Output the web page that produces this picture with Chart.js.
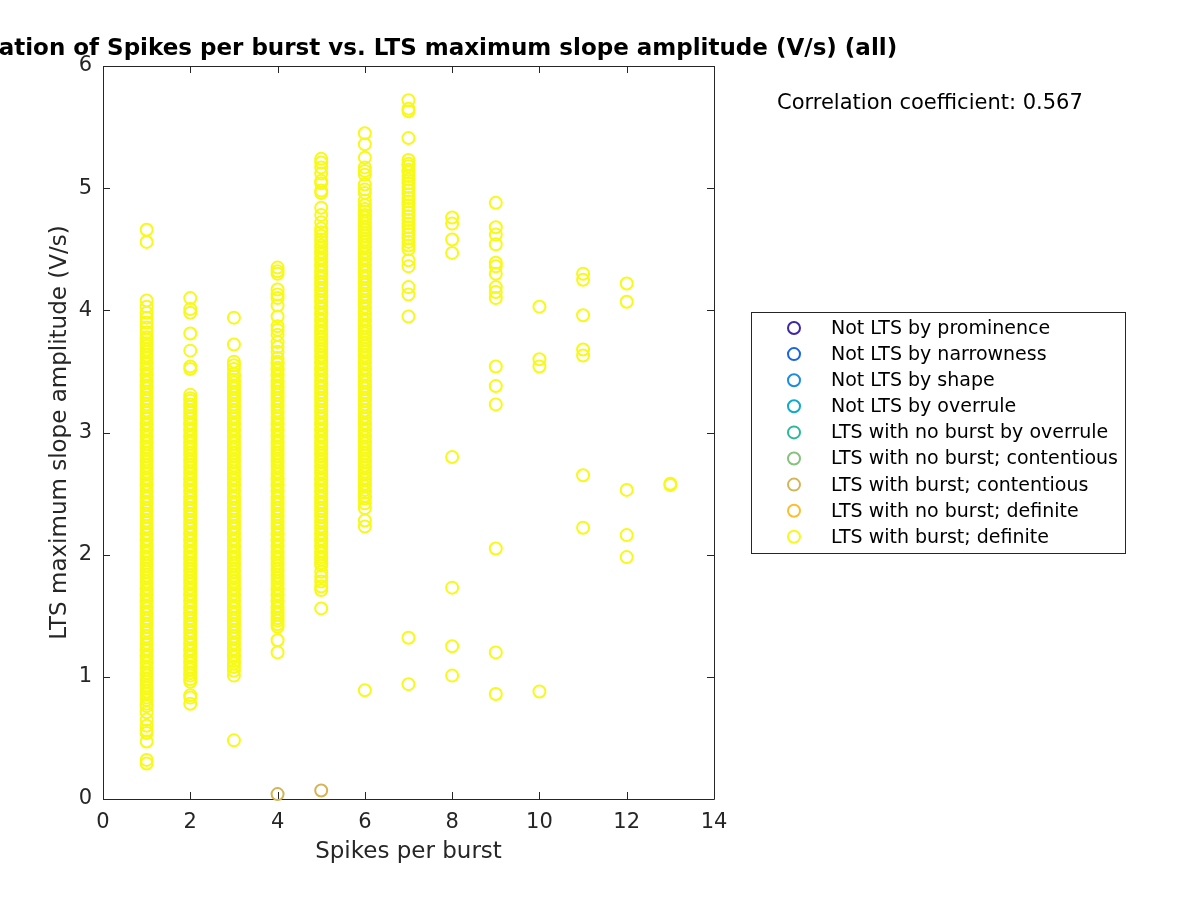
<!DOCTYPE html>
<html>
<head>
<meta charset="utf-8">
<script src="https://cdn.jsdelivr.net/npm/chart.js@4.4.1/dist/chart.umd.min.js"></script>
<style>
html,body{margin:0;padding:0;background:#fff;}
#wrap{width:1200px;height:900px;}
</style>
</head>
<body>
<div id="wrap"><canvas id="chart" width="1200" height="900"></canvas></div>
<script>
// legend labels and marker colours
const classLabels = [
"Not LTS by prominence",
"Not LTS by narrowness",
"Not LTS by shape",
"Not LTS by overrule",
"LTS with no burst by overrule",
"LTS with no burst; contentious",
"LTS with burst; contentious",
"LTS with no burst; definite",
"LTS with burst; definite"
];
const classColors = ["#3e26a8","#1764e6","#1f8be0","#0cabca","#2cb99b","#85c27b","#d3b456","#fbbf2e","#f7f918"];

// LTS with burst; contentious
const contentiousX = [4, 5];
const contentiousY = [0.04, 0.07];

// LTS with burst; definite, one list of amplitudes per spike count
const spb1 = [4.66,4.56,4.08,4.03,3.98,3.94,3.90,3.86,3.82,3.78,
3.76,3.73,3.71,3.68,3.66,3.63,3.61,3.58,3.56,3.53,3.51,3.48,3.46,3.43,3.41,3.38,3.36,3.33,3.31,3.28,
3.26,3.23,3.21,3.18,3.16,3.13,3.11,3.08,3.06,3.03,3.01,2.98,2.96,2.93,2.91,2.88,2.86,2.83,2.81,2.78,
2.76,2.73,2.71,2.68,2.66,2.63,2.61,2.58,2.56,2.53,2.51,2.48,2.46,2.43,2.41,2.38,2.36,2.33,2.31,2.28,
2.26,2.23,2.21,2.18,2.16,2.13,2.11,2.08,2.06,2.03,2.01,1.98,1.96,1.93,1.91,1.88,1.86,1.83,1.81,1.78,
1.76,1.73,1.71,1.68,1.66,1.63,1.61,1.58,1.56,1.53,1.51,1.48,1.46,1.43,1.41,1.38,1.36,1.33,1.31,1.28,
1.26,1.23,1.21,1.18,1.16,1.13,1.11,1.08,1.06,1.03,1.01,0.98,0.96,0.93,0.91,0.88,0.86,0.83,0.81,0.78,
0.76,0.71,0.65,0.60,0.56,0.54,0.47,0.32,0.29];
const spb2 = [4.10,4.01,3.98,3.81,3.67,3.54,3.52,
3.31,3.28,3.26,3.23,3.21,3.18,3.16,3.13,3.11,3.08,3.06,3.03,3.01,2.98,2.96,2.93,2.91,2.88,2.86,2.83,
2.81,2.78,2.76,2.73,2.71,2.68,2.66,2.63,2.61,2.58,2.56,2.53,2.51,2.48,2.46,2.43,2.41,2.38,2.36,2.33,
2.31,2.28,2.26,2.23,2.21,2.18,2.16,2.13,2.11,2.08,2.06,2.03,2.01,1.98,1.96,1.93,1.91,1.88,1.86,1.83,
1.81,1.78,1.76,1.73,1.71,1.68,1.66,1.63,1.61,1.58,1.56,1.53,1.51,1.48,1.46,1.43,1.41,1.38,1.36,1.33,
1.31,1.28,1.26,1.23,1.21,1.18,1.16,1.13,1.11,1.08,1.06,1.03,1.01,0.98,0.96,
0.85,0.83,0.78];
const spb3 = [3.94,3.72,3.58,3.55,3.52,
3.48,3.46,3.43,3.41,3.38,3.36,3.33,3.31,3.28,3.26,3.23,3.21,3.18,3.16,3.13,3.11,3.08,3.06,3.03,3.01,
2.98,2.96,2.93,2.91,2.88,2.86,2.83,2.81,2.78,2.76,2.73,2.71,2.68,2.66,2.63,2.61,2.58,2.56,2.53,2.51,
2.48,2.46,2.43,2.41,2.38,2.36,2.33,2.31,2.28,2.26,2.23,2.21,2.18,2.16,2.13,2.11,2.08,2.06,2.03,2.01,
1.98,1.96,1.93,1.91,1.88,1.86,1.83,1.81,1.78,1.76,1.73,1.71,1.68,1.66,1.63,1.61,1.58,1.56,1.53,1.51,
1.48,1.46,1.43,1.41,1.38,1.36,1.33,1.31,1.28,1.26,1.23,1.21,1.18,1.16,1.13,1.11,1.08,
1.05,1.01,0.48];
const spb4 = [4.35,4.32,4.30,4.17,4.13,4.10,4.04,3.95,3.87,3.84,3.80,3.74,3.70,3.66,
3.61,3.58,3.56,3.53,3.51,3.48,3.46,3.43,3.41,3.38,3.36,3.33,3.31,3.28,3.26,3.23,3.21,3.18,3.16,3.13,
3.11,3.08,3.06,3.03,3.01,2.98,2.96,2.93,2.91,2.88,2.86,2.83,2.81,2.78,2.76,2.73,2.71,2.68,2.66,2.63,
2.61,2.58,2.56,2.53,2.51,2.48,2.46,2.43,2.41,2.38,2.36,2.33,2.31,2.28,2.26,2.23,2.21,2.18,2.16,2.13,
2.11,2.08,2.06,2.03,2.01,1.98,1.96,1.93,1.91,1.88,1.86,1.83,1.81,1.78,1.76,1.73,1.71,1.68,1.66,1.63,
1.61,1.58,1.56,1.53,1.51,1.48,1.46,1.43,
1.41,1.30,1.20];
const spb5 = [5.24,5.21,5.17,5.12,5.06,5.04,4.98,4.96,4.84,4.78,4.72,4.67,4.64,4.61,
4.58,4.56,4.53,4.51,4.48,4.46,4.43,4.41,4.38,4.36,4.33,4.31,4.28,4.26,4.23,4.21,4.18,4.16,4.13,4.11,
4.08,4.06,4.03,4.01,3.98,3.96,3.93,3.91,3.88,3.86,3.83,3.81,3.78,3.76,3.73,3.71,3.68,3.66,3.63,3.61,
3.58,3.56,3.53,3.51,3.48,3.46,3.43,3.41,3.38,3.36,3.33,3.31,3.28,3.26,3.23,3.21,3.18,3.16,3.13,3.11,
3.08,3.06,3.03,3.01,2.98,2.96,2.93,2.91,2.88,2.86,2.83,2.81,2.78,2.76,2.73,2.71,2.68,2.66,2.63,2.61,
2.58,2.56,2.53,2.51,2.48,2.46,2.43,2.41,2.38,2.36,2.33,2.31,2.28,2.26,2.23,2.21,2.18,2.16,2.13,2.11,
2.08,2.06,2.03,2.01,1.98,1.96,1.93,1.91,
1.86,1.82,1.78,1.74,1.71,1.56];
const spb6 = [5.45,5.36,5.25,5.17,5.14,5.11,5.03,4.99,4.96,4.90,4.86,
4.83,4.81,4.78,4.76,4.73,4.71,4.68,4.66,4.63,4.61,4.58,4.56,4.53,4.51,4.48,4.46,4.43,4.41,4.38,4.36,
4.33,4.31,4.28,4.26,4.23,4.21,4.18,4.16,4.13,4.11,4.08,4.06,4.03,4.01,3.98,3.96,3.93,3.91,3.88,3.86,
3.83,3.81,3.78,3.76,3.73,3.71,3.68,3.66,3.63,3.61,3.58,3.56,3.53,3.51,3.48,3.46,3.43,3.41,3.38,3.36,
3.33,3.31,3.28,3.26,3.23,3.21,3.18,3.16,3.13,3.11,3.08,3.06,3.03,3.01,2.98,2.96,2.93,2.91,2.88,2.86,
2.83,2.81,2.78,2.76,2.73,2.71,2.68,2.66,2.63,2.61,2.58,2.56,2.53,2.51,2.48,2.46,
2.42,2.38,2.28,2.23,0.89];
const spb7 = [5.72,5.65,5.63,5.41,5.23,5.20,5.18,5.15,5.13,5.10,5.07,5.04,5.01,4.98,4.95,4.92,4.89,
4.86,4.83,4.80,4.77,4.74,4.71,4.68,4.65,4.62,4.59,4.56,4.53,4.50,4.41,4.36,4.19,4.13,3.95,1.32,0.94];
const spb8 = [4.76,4.71,4.58,4.47,2.80,1.73,1.25,1.01];
const spb9 = [4.88,4.68,4.62,4.54,4.39,4.36,4.30,4.19,4.15,4.10,3.54,3.38,3.23,2.05,1.20,0.86];
const spb10 = [4.03,3.60,3.54,0.88];
const spb11 = [4.30,4.25,3.96,3.68,3.63,2.65,2.22];
const spb12 = [4.22,4.07,2.53,2.16,1.98];
const spb13 = [2.58,2.57];

const definiteCols = [spb1,spb2,spb3,spb4,spb5,spb6,spb7,spb8,spb9,spb10,spb11,spb12,spb13];

const xTicks = [0,2,4,6,8,10,12,14];
const yTicks = [0,1,2,3,4,5,6];

const titleText = "Correlation of Spikes per burst vs. LTS maximum slope amplitude (V/s) (all)";
const corrText = "Correlation coefficient: 0.567";

// build points
const definitePts = [];
definiteCols.forEach((col,i)=>{
col.forEach(v=>definitePts.push({x:i+1,y:v}));
});
const contentiousPts = contentiousX.map((x,i)=>({x:x,y:contentiousY[i]}));

const datasets = classLabels.map((lab,i)=>{
let pts = [];
if(i===6) pts = contentiousPts;
if(i===8) pts = definitePts;
return {
label:lab,
data:pts,
borderColor:classColors[i],
backgroundColor:"rgba(0,0,0,0)",
pointRadius:6,
pointHoverRadius:6,
pointBorderWidth:2,
clip:false
};
});

const FONT = "'DejaVu Sans', sans-serif";
const AXC = "#262626";

// axes box with inward ticks, title, text and legend
const matlabLook = {
id:"matlabLook",
beforeDatasetsDraw(chart){
const c = chart.ctx, a = chart.chartArea;
const xs = chart.scales.x, ys = chart.scales.y;
c.save();
c.strokeStyle = AXC;
c.lineWidth = 1;
c.beginPath();
c.rect(Math.round(a.left)+0.5, Math.round(a.top)+0.5, Math.round(a.right-a.left), Math.round(a.bottom-a.top));
const tl = 7;
xTicks.forEach(t=>{
const px = Math.round(xs.getPixelForValue(t))+0.5;
c.moveTo(px,a.bottom); c.lineTo(px,a.bottom-tl);
c.moveTo(px,a.top); c.lineTo(px,a.top+tl);
});
yTicks.forEach(t=>{
const py = Math.round(ys.getPixelForValue(t))+0.5;
c.moveTo(a.left,py); c.lineTo(a.left+tl,py);
c.moveTo(a.right,py); c.lineTo(a.right-tl,py);
});
c.stroke();
c.restore();
},
afterDraw(chart){
const c = chart.ctx, a = chart.chartArea;
c.save();
// title, centred over the axes (runs off the left edge like the original)
c.fillStyle = "#000";
c.font = "bold 23px " + FONT;
c.textAlign = "center";
c.textBaseline = "alphabetic";
c.fillText(titleText, (a.left+a.right)/2, 55);
// correlation text
c.font = "21px " + FONT;
c.textAlign = "left";
c.textBaseline = "middle";
c.fillText(corrText, 777, 104);
// legend
c.strokeStyle = AXC;
c.lineWidth = 1;
c.fillStyle = "#fff";
c.fillRect(751.5,312.5,374,241);
c.strokeRect(751.5,312.5,374,241);
c.font = "19px " + FONT;
chart.data.datasets.forEach((ds,i)=>{
const yy = 328 + i*26.1;
c.beginPath();
c.strokeStyle = ds.borderColor;
c.lineWidth = 2;
c.arc(794, yy, 6, 0, Math.PI*2);
c.stroke();
c.fillStyle = "#000";
c.textAlign = "left";
c.textBaseline = "middle";
c.fillText(ds.label, 831, yy+1);
});
c.restore();
}
};

const ctx = document.getElementById("chart").getContext("2d");

const chart = new Chart(ctx,{
type:"scatter",
data:{datasets:datasets},
options:{
responsive:false,
animation:false,
events:[],
layout:{padding:{left:0,top:66,right:486,bottom:0}},
plugins:{
legend:{display:false},
title:{display:false},
tooltip:{enabled:false}
},
scales:{
x:{
type:"linear",
min:0,max:14,
afterBuildTicks(s){ s.ticks = xTicks.map(v=>({value:v})); },
afterFit(s){ s.height = 101; },
grid:{display:false,drawTicks:false,tickLength:0},
border:{display:false},
ticks:{font:{family:FONT,size:21},color:AXC,padding:11,maxRotation:0},
title:{display:true,text:"Spikes per burst",font:{family:FONT,size:23},color:AXC,padding:{top:0,bottom:34}}
},
y:{
type:"linear",
min:0,max:6,
afterBuildTicks(s){ s.ticks = yTicks.map(v=>({value:v})); },
afterFit(s){ s.width = 103; },
grid:{display:false,drawTicks:false,tickLength:0},
border:{display:false},
ticks:{font:{family:FONT,size:21},color:AXC,padding:11},
title:{display:true,text:"LTS maximum slope amplitude (V/s)",font:{family:FONT,size:23},color:AXC,padding:{top:46,bottom:0}}
}
}
},
plugins:[matlabLook]
});
</script>
</body>
</html>
